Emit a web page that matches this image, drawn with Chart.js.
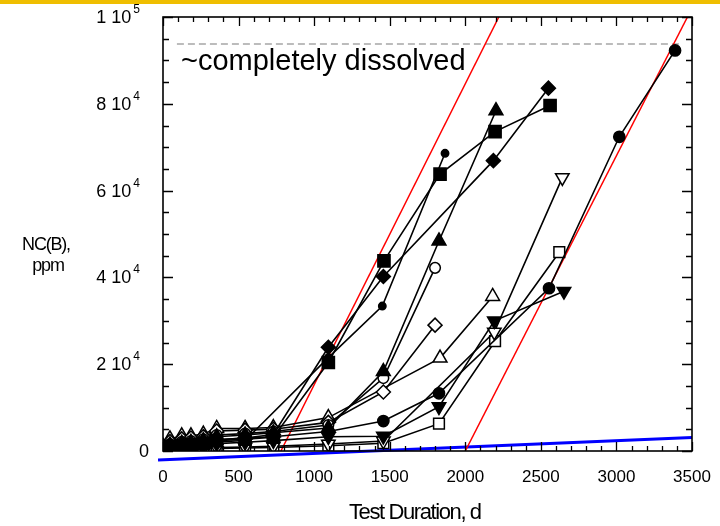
<!DOCTYPE html>
<html>
<head>
<meta charset="utf-8">
<script src="https://cdn.jsdelivr.net/npm/chart.js@4.4.1/dist/chart.umd.min.js"></script>
<style>
  html, body { margin: 0; padding: 0; background: #fff; }
  #wrap { position: relative; width: 720px; height: 526px; }
  #band { position: absolute; left: 0; top: 0; width: 720px; height: 4px; background: #efbe00; }
</style>
</head>
<body>
<div id="wrap">
  <canvas id="myChart" width="720" height="526"></canvas>
  <div id="band"></div>
</div>
<script>
/* globals Chart:false */

(function () {
  'use strict'

  // NC(B), ppm against test duration, d
  var smallDotDays = [0, 46, 124, 185, 267, 355, 543, 1094, 1451, 1866]
  var smallDotPpm = [300, 900, 1100, 1300, 1600, 2100, 2400, 21500, 33400, 68600]

  var filledSquareDays = [0, 46, 124, 185, 267, 355, 543, 730, 1094, 1462, 1833, 2197, 2561]
  var filledSquarePpm = [400, 1000, 1300, 1500, 1800, 2400, 2700, 3200, 20400, 43800, 63800, 73600, 79600]

  var filledDiamondDays = [0, 46, 124, 185, 267, 355, 543, 730, 1094, 1458, 2186, 2550]
  var filledDiamondPpm = [500, 1100, 1500, 1700, 2000, 2600, 3000, 3800, 23900, 40200, 66900, 83600]

  var filledTriangleDays = [0, 46, 124, 185, 267, 355, 543, 730, 1094, 1458, 1826, 2203]
  var filledTrianglePpm = [600, 1400, 1800, 2000, 2400, 3300, 3700, 4200, 5300, 18300, 48400, 78400]

  var openCircleDays = [0, 46, 124, 185, 267, 355, 543, 730, 1094, 1458, 1800]
  var openCirclePpm = [700, 1600, 2100, 2300, 2700, 3700, 4000, 4500, 6000, 16800, 42200]

  var openDiamondDays = [0, 46, 124, 185, 267, 355, 543, 730, 1094, 1458, 1800]
  var openDiamondPpm = [900, 2200, 2800, 3000, 3300, 4600, 4800, 5000, 6600, 13600, 29000]

  var openTriangleDays = [0, 46, 124, 185, 267, 355, 543, 730, 1094, 1833, 2181]
  var openTrianglePpm = [1100, 2800, 3500, 3500, 3900, 5200, 5200, 5400, 7700, 21400, 35600]

  var filledCircleDays = [0, 46, 124, 185, 267, 355, 543, 730, 1094, 1458, 1826, 2554, 3019, 3388]
  var filledCirclePpm = [500, 1200, 1500, 1700, 2000, 2600, 3000, 3300, 4500, 6900, 13300, 37500, 72400, 92300]

  var filledTriDownDays = [0, 46, 124, 185, 267, 355, 543, 730, 1094, 1458, 1826, 2192, 2653]
  var filledTriDownPpm = [300, 800, 1000, 1100, 1300, 1700, 2000, 2400, 3300, 3400, 10200, 30000, 36800]

  var openTriDownDays = [0, 46, 124, 185, 267, 355, 543, 730, 1094, 1458, 2192, 2642]
  var openTriDownPpm = [200, 500, 600, 600, 700, 800, 900, 1100, 1600, 2300, 27400, 63000]

  var openSquareDays = [0, 46, 124, 185, 267, 355, 543, 730, 1094, 1458, 1826, 2197, 2622]
  var openSquarePpm = [100, 300, 400, 400, 500, 600, 700, 800, 1200, 1800, 6300, 25300, 45800]

  // guide lines
  var redLine1Days = [780, 2222]
  var redLine1Ppm = [0, 100000]
  var redLine2Days = [2000, 3470]
  var redLine2Ppm = [0, 100000]
  var blueLineDays = [-33, 3500]
  var blueLinePpm = [-2050, 3100]
  var dissolvedDays = [92, 3440]
  var dissolvedPpm = [93800, 93800]

  // axis ticks
  var xTicks = [0, 500, 1000, 1500, 2000, 2500, 3000, 3500]
  var yTicks = [0, 20000, 40000, 60000, 80000, 100000]
  var yTickText = ['0', '2 10', '4 10', '6 10', '8 10', '1 10']
  var yTickPower = ['', '4', '4', '4', '4', '5']

  var FONT = '"Liberation Sans", Arial, Helvetica, sans-serif'

  function pts (days, ppm) {
    return days.map(function (d, i) { return { x: d, y: ppm[i] } })
  }

  function marker (days, ppm, shape, r, filled, rot) {
    return {
      data: pts(days, ppm),
      showLine: true,
      borderColor: '#000',
      borderWidth: 1.6,
      pointStyle: shape,
      pointRadius: r,
      pointHoverRadius: r,
      pointRotation: rot || 0,
      pointBackgroundColor: filled ? '#000' : '#fff',
      pointBorderColor: '#000',
      pointBorderWidth: 1.5
    }
  }

  function guide (days, ppm, color, width, dash, noClip) {
    var ds = {
      data: pts(days, ppm),
      showLine: true,
      borderColor: color,
      borderWidth: width,
      borderDash: dash || [],
      pointRadius: 0,
      pointHoverRadius: 0
    }
    if (noClip) ds.clip = false
    return ds
  }

  var frame = {
    id: 'frame',
    afterDatasetsDraw: function (chart) {
      var ctx = chart.ctx
      var a = chart.chartArea
      var xs = chart.scales.x
      var ys = chart.scales.y
      var i, px, py, len

      ctx.save()
      ctx.strokeStyle = '#000'
      ctx.lineWidth = 1.6
      ctx.strokeRect(a.left, a.top, a.right - a.left, a.bottom - a.top)

      ctx.lineWidth = 1.3
      ctx.beginPath()
      for (i = 0; i <= 3500; i += 100) {
        px = Math.round(xs.getPixelForValue(i)) + 0.5
        len = i % 500 === 0 ? 9 : 5
        ctx.moveTo(px, a.bottom); ctx.lineTo(px, a.bottom - len)
        ctx.moveTo(px, a.top); ctx.lineTo(px, a.top + len)
      }
      for (i = 0; i <= 100000; i += 5000) {
        py = Math.round(ys.getPixelForValue(i)) + 0.5
        len = i % 20000 === 0 ? 10 : 6
        ctx.moveTo(a.left, py); ctx.lineTo(a.left + len, py)
        ctx.moveTo(a.right, py); ctx.lineTo(a.right - len, py)
      }
      ctx.stroke()

      ctx.fillStyle = '#000'
      ctx.textBaseline = 'alphabetic'

      // x tick labels
      ctx.font = '17px ' + FONT
      ctx.textAlign = 'center'
      xTicks.forEach(function (t) {
        ctx.fillText(String(t), xs.getPixelForValue(t), 482)
      })

      // y tick labels, "m 10" with a raised power
      yTicks.forEach(function (t, k) {
        py = ys.getPixelForValue(t)
        if (!yTickPower[k]) {
          ctx.font = '18px ' + FONT
          ctx.textAlign = 'right'
          ctx.fillText(yTickText[k], 149, py + 6)
          return
        }
        ctx.font = '12px ' + FONT
        ctx.textAlign = 'left'
        var pw = ctx.measureText(yTickPower[k]).width
        ctx.fillText(yTickPower[k], 140 - pw, py - 4)
        ctx.font = '18px ' + FONT
        ctx.textAlign = 'right'
        ctx.fillText(yTickText[k], 140 - pw - 2, py + 6)
      })

      // axis titles
      ctx.letterSpacing = '-1.4px'
      ctx.font = '22px ' + FONT
      ctx.textAlign = 'left'
      ctx.fillText('Test Duration, d', 349, 519)
      ctx.letterSpacing = '-1.2px'
      ctx.font = '18px ' + FONT
      ctx.textAlign = 'center'
      ctx.fillText('NC(B),', 46, 250)
      ctx.fillText('ppm', 48, 271)
      ctx.letterSpacing = '0px'

      ctx.font = '29px ' + FONT
      ctx.textAlign = 'left'
      ctx.fillText('~completely dissolved', 181, 70)
      ctx.restore()
    }
  }

  var ctx01 = document.getElementById('myChart')

  // eslint-disable-next-line no-unused-vars
  var myChart = new Chart(ctx01, {
    type: 'scatter',
    data: {
      datasets: [
        marker(smallDotDays, smallDotPpm, 'circle', 3.7, true),
        marker(filledSquareDays, filledSquarePpm, 'rect', 8.6, true),
        marker(filledDiamondDays, filledDiamondPpm, 'rectRot', 7, true),
        marker(filledTriangleDays, filledTrianglePpm, 'triangle', 8, true),
        marker(openCircleDays, openCirclePpm, 'circle', 5.3, false),
        marker(openDiamondDays, openDiamondPpm, 'rectRot', 7, false),
        marker(openTriangleDays, openTrianglePpm, 'triangle', 8, false),
        marker(filledCircleDays, filledCirclePpm, 'circle', 5.6, true),
        marker(filledTriDownDays, filledTriDownPpm, 'triangle', 7.8, true, 180),
        marker(openTriDownDays, openTriDownPpm, 'triangle', 7.8, false, 180),
        marker(openSquareDays, openSquarePpm, 'rect', 7.6, false),
        guide(redLine1Days, redLine1Ppm, '#ff0000', 1.5),
        guide(redLine2Days, redLine2Ppm, '#ff0000', 1.5),
        guide(dissolvedDays, dissolvedPpm, '#a6a6a6', 1.5, [7, 4]),
        guide(blueLineDays, blueLinePpm, '#0000ff', 3, null, true)
      ]
    },
    options: {
      responsive: false,
      animation: false,
      events: [],
      layout: { padding: { left: 163, right: 28, top: 17, bottom: 75 } },
      plugins: {
        legend: { display: false },
        tooltip: { enabled: false }
      },
      scales: {
        x: { type: 'linear', min: 0, max: 3500, display: false },
        y: { type: 'linear', min: 0, max: 100000, display: false }
      }
    },
    plugins: [frame]
  })
}())
</script>
</body>
</html>
